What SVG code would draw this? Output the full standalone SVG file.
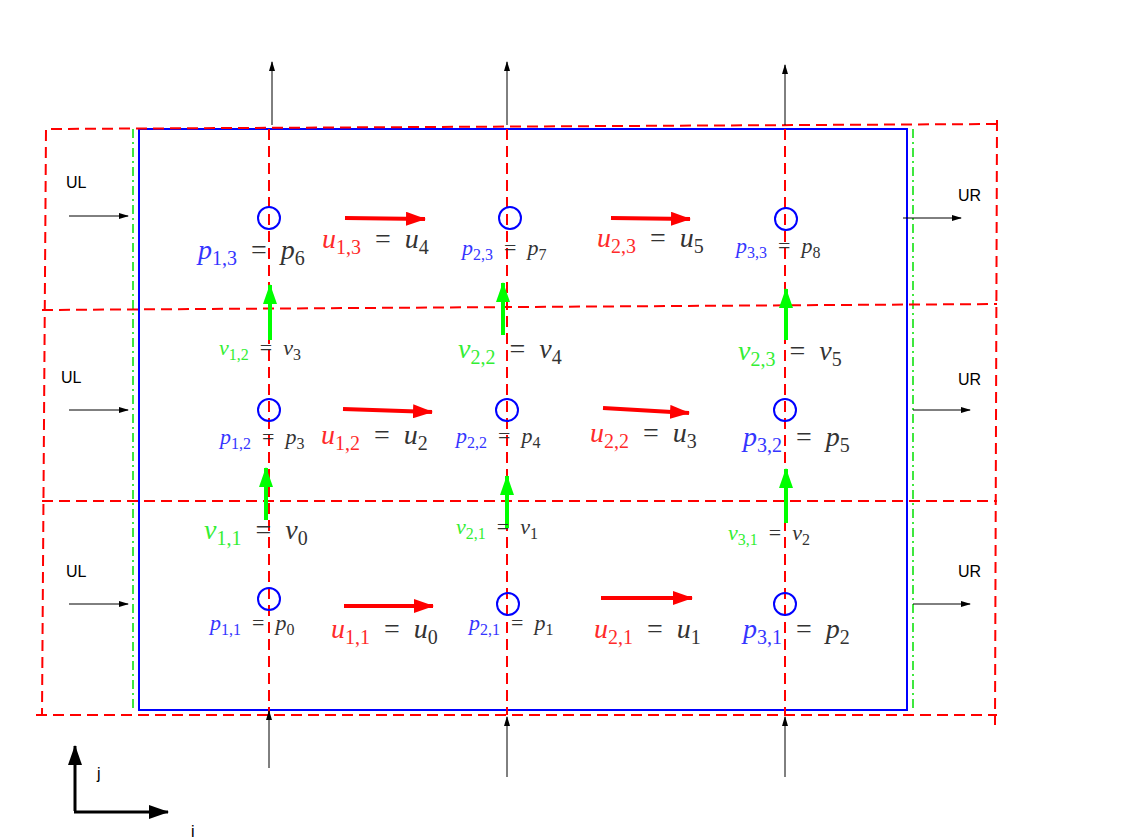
<svg xmlns="http://www.w3.org/2000/svg" width="1125" height="839" viewBox="0 0 1125 839">
<style>
.rd{fill:none;stroke:#ff0000;stroke-width:2;stroke-dasharray:11 6}
.gd{fill:none;stroke:#00e000;stroke-width:1.5;stroke-dasharray:9 4 2 4}
.bl{fill:none;stroke:#0000ff;stroke-width:2}
.thin{stroke:#000;stroke-width:1;marker-end:url(#ah)}
.ua{stroke:#ff0000;stroke-width:4;marker-end:url(#ra)}
.va{stroke:#00ff00;stroke-width:4;marker-end:url(#ga)}
.ax{stroke:#000;stroke-width:3;marker-end:url(#ka)}
.pc{fill:none;stroke:#0000ff;stroke-width:2}
.m{font-family:"Liberation Serif",serif;fill:#333}
.L{font-size:28px}
.S{font-size:22px}
.L .s{font-size:20px}
.S .s{font-size:16px}
.i{font-style:italic}
.b{fill:#3535ff}
.r{fill:#ff2a2a}
.g{fill:#33ee33}
.lab{font-family:"Liberation Sans",Arial,sans-serif;font-size:16px;fill:#000}
</style>
<defs>
<marker id="ah" markerWidth="10" markerHeight="6" refX="9" refY="3" orient="auto" markerUnits="userSpaceOnUse"><path d="M0,0 L10,3 L0,6 z" fill="#000"/></marker>
<marker id="ra" markerWidth="20" markerHeight="14" refX="19" refY="7" orient="auto" markerUnits="userSpaceOnUse"><path d="M0,0 L20,7 L0,14 z" fill="#ff0000"/></marker>
<marker id="ga" markerWidth="20" markerHeight="14" refX="19" refY="7" orient="auto" markerUnits="userSpaceOnUse"><path d="M0,0 L20,7 L0,14 z" fill="#00ff00"/></marker>
<marker id="ka" markerWidth="20" markerHeight="14" refX="19" refY="7" orient="auto" markerUnits="userSpaceOnUse"><path d="M0,0 L20,7 L0,14 z" fill="#000"/></marker>
</defs>
<rect width="1125" height="839" fill="#fff"/>

<g id="grid">
<rect class="bl" x="139" y="129" width="768" height="581"/>
<line class="gd" x1="133" y1="129" x2="133" y2="710"/>
<line class="gd" x1="913" y1="129" x2="913" y2="710"/>
<polyline class="rd" points="997,124 46,129 42,715"/>
<line class="rd" x1="997" y1="120" x2="995" y2="725"/>
<line class="rd" x1="36" y1="715" x2="997" y2="715"/>
<line class="rd" x1="42" y1="310" x2="997" y2="304"/>
<line class="rd" x1="42" y1="501" x2="997" y2="501"/>
<line class="rd" x1="269" y1="129" x2="269" y2="715"/>
<line class="rd" x1="507" y1="129" x2="507" y2="715"/>
<line class="rd" x1="785" y1="129" x2="785" y2="715"/>
</g>

<g id="connectors">
<line class="thin" x1="272" y1="125" x2="272" y2="62"/>
<line class="thin" x1="507" y1="125" x2="507" y2="62"/>
<line class="thin" x1="785" y1="125" x2="785" y2="65"/>
<line class="thin" x1="269" y1="768" x2="269" y2="711"/>
<line class="thin" x1="507" y1="777" x2="507" y2="717"/>
<line class="thin" x1="785" y1="777" x2="785" y2="717"/>
<line class="thin" x1="69" y1="216" x2="128" y2="216"/>
<line class="thin" x1="69" y1="410" x2="128" y2="410"/>
<line class="thin" x1="69" y1="604" x2="128" y2="604"/>
<line class="thin" x1="903" y1="218" x2="961" y2="218"/>
<line class="thin" x1="913" y1="410" x2="970" y2="410"/>
<line class="thin" x1="913" y1="604" x2="970" y2="604"/>
<line class="ua" x1="345" y1="218" x2="425" y2="219"/>
<line class="ua" x1="611" y1="218" x2="690" y2="219"/>
<line class="ua" x1="343" y1="409" x2="432" y2="412"/>
<line class="ua" x1="603" y1="408" x2="689" y2="413"/>
<line class="ua" x1="344" y1="606" x2="433" y2="606"/>
<line class="ua" x1="601" y1="598" x2="692" y2="598"/>
<line class="va" x1="270" y1="340" x2="270" y2="285"/>
<line class="va" x1="503" y1="335" x2="503" y2="283"/>
<line class="va" x1="786" y1="340" x2="786" y2="289"/>
<line class="va" x1="266" y1="520" x2="266" y2="468"/>
<line class="va" x1="507" y1="528" x2="507" y2="476"/>
<line class="va" x1="786" y1="523" x2="786" y2="469"/>
<line class="ax" x1="75" y1="811" x2="75" y2="746"/>
<line class="ax" x1="74" y1="812" x2="168" y2="812"/>
</g>

<g id="boundary-labels">
<text class="lab" x="66" y="188">UL</text>
<text class="lab" x="61" y="383">UL</text>
<text class="lab" x="66" y="577">UL</text>
<text class="lab" x="958" y="201">UR</text>
<text class="lab" x="958" y="385">UR</text>
<text class="lab" x="958" y="577">UR</text>
<text class="lab" x="97" y="779">j</text>
<text class="lab" x="191" y="837">i</text>
</g>

<g id="p-nodes">
<circle class="pc" cx="269" cy="218" r="11"/>
<circle class="pc" cx="510" cy="218" r="11"/>
<circle class="pc" cx="786" cy="219" r="11"/>
<circle class="pc" cx="269" cy="410" r="11"/>
<circle class="pc" cx="507" cy="410" r="11"/>
<circle class="pc" cx="785" cy="410" r="11"/>
<circle class="pc" cx="269" cy="599" r="11"/>
<circle class="pc" cx="508" cy="604" r="11"/>
<circle class="pc" cx="785" cy="604" r="11"/>
</g>

<g id="p-labels">
<text class="m L" x="198" y="259"><tspan class="i b">p</tspan><tspan class="s b" dy="6">1,3</tspan><tspan dy="-6">&#8194;=&#8194;</tspan><tspan class="i">p</tspan><tspan class="s" dy="6">6</tspan></text>
<text class="m S" x="462" y="255"><tspan class="i b">p</tspan><tspan class="s b" dy="5">2,3</tspan><tspan dy="-5">&#8194;=&#8194;</tspan><tspan class="i">p</tspan><tspan class="s" dy="5">7</tspan></text>
<text class="m S" x="736" y="253"><tspan class="i b">p</tspan><tspan class="s b" dy="5">3,3</tspan><tspan dy="-5">&#8194;=&#8194;</tspan><tspan class="i">p</tspan><tspan class="s" dy="5">8</tspan></text>
<text class="m S" x="220" y="444"><tspan class="i b">p</tspan><tspan class="s b" dy="5">1,2</tspan><tspan dy="-5">&#8194;=&#8194;</tspan><tspan class="i">p</tspan><tspan class="s" dy="5">3</tspan></text>
<text class="m S" x="456" y="443"><tspan class="i b">p</tspan><tspan class="s b" dy="5">2,2</tspan><tspan dy="-5">&#8194;=&#8194;</tspan><tspan class="i">p</tspan><tspan class="s" dy="5">4</tspan></text>
<text class="m L" x="743" y="446"><tspan class="i b">p</tspan><tspan class="s b" dy="6">3,2</tspan><tspan dy="-6">&#8194;=&#8194;</tspan><tspan class="i">p</tspan><tspan class="s" dy="6">5</tspan></text>
<text class="m S" x="210" y="630"><tspan class="i b">p</tspan><tspan class="s b" dy="5">1,1</tspan><tspan dy="-5">&#8194;=&#8194;</tspan><tspan class="i">p</tspan><tspan class="s" dy="5">0</tspan></text>
<text class="m S" x="469" y="630"><tspan class="i b">p</tspan><tspan class="s b" dy="5">2,1</tspan><tspan dy="-5">&#8194;=&#8194;</tspan><tspan class="i">p</tspan><tspan class="s" dy="5">1</tspan></text>
<text class="m L" x="743" y="638"><tspan class="i b">p</tspan><tspan class="s b" dy="6">3,1</tspan><tspan dy="-6">&#8194;=&#8194;</tspan><tspan class="i">p</tspan><tspan class="s" dy="6">2</tspan></text>
</g>

<g id="u-labels">
<text class="m L" x="322" y="248"><tspan class="i r">u</tspan><tspan class="s r" dy="6">1,3</tspan><tspan dy="-6">&#8194;=&#8194;</tspan><tspan class="i">u</tspan><tspan class="s" dy="6">4</tspan></text>
<text class="m L" x="597" y="247"><tspan class="i r">u</tspan><tspan class="s r" dy="6">2,3</tspan><tspan dy="-6">&#8194;=&#8194;</tspan><tspan class="i">u</tspan><tspan class="s" dy="6">5</tspan></text>
<text class="m L" x="321" y="444"><tspan class="i r">u</tspan><tspan class="s r" dy="6">1,2</tspan><tspan dy="-6">&#8194;=&#8194;</tspan><tspan class="i">u</tspan><tspan class="s" dy="6">2</tspan></text>
<text class="m L" x="590" y="442"><tspan class="i r">u</tspan><tspan class="s r" dy="6">2,2</tspan><tspan dy="-6">&#8194;=&#8194;</tspan><tspan class="i">u</tspan><tspan class="s" dy="6">3</tspan></text>
<text class="m L" x="331" y="638"><tspan class="i r">u</tspan><tspan class="s r" dy="6">1,1</tspan><tspan dy="-6">&#8194;=&#8194;</tspan><tspan class="i">u</tspan><tspan class="s" dy="6">0</tspan></text>
<text class="m L" x="594" y="638"><tspan class="i r">u</tspan><tspan class="s r" dy="6">2,1</tspan><tspan dy="-6">&#8194;=&#8194;</tspan><tspan class="i">u</tspan><tspan class="s" dy="6">1</tspan></text>
</g>

<g id="v-labels">
<text class="m S" x="219" y="355"><tspan class="i g">v</tspan><tspan class="s g" dy="5">1,2</tspan><tspan dy="-5">&#8194;=&#8194;</tspan><tspan class="i">v</tspan><tspan class="s" dy="5">3</tspan></text>
<text class="m L" x="458" y="358"><tspan class="i g">v</tspan><tspan class="s g" dy="6">2,2</tspan><tspan dy="-6">&#8194;=&#8194;</tspan><tspan class="i">v</tspan><tspan class="s" dy="6">4</tspan></text>
<text class="m L" x="738" y="360"><tspan class="i g">v</tspan><tspan class="s g" dy="6">2,3</tspan><tspan dy="-6">&#8194;=&#8194;</tspan><tspan class="i">v</tspan><tspan class="s" dy="6">5</tspan></text>
<text class="m L" x="204" y="539"><tspan class="i g">v</tspan><tspan class="s g" dy="6">1,1</tspan><tspan dy="-6">&#8194;=&#8194;</tspan><tspan class="i">v</tspan><tspan class="s" dy="6">0</tspan></text>
<text class="m S" x="456" y="534"><tspan class="i g">v</tspan><tspan class="s g" dy="5">2,1</tspan><tspan dy="-5">&#8194;=&#8194;</tspan><tspan class="i">v</tspan><tspan class="s" dy="5">1</tspan></text>
<text class="m S" x="728" y="540"><tspan class="i g">v</tspan><tspan class="s g" dy="5">3,1</tspan><tspan dy="-5">&#8194;=&#8194;</tspan><tspan class="i">v</tspan><tspan class="s" dy="5">2</tspan></text>
</g>
</svg>
